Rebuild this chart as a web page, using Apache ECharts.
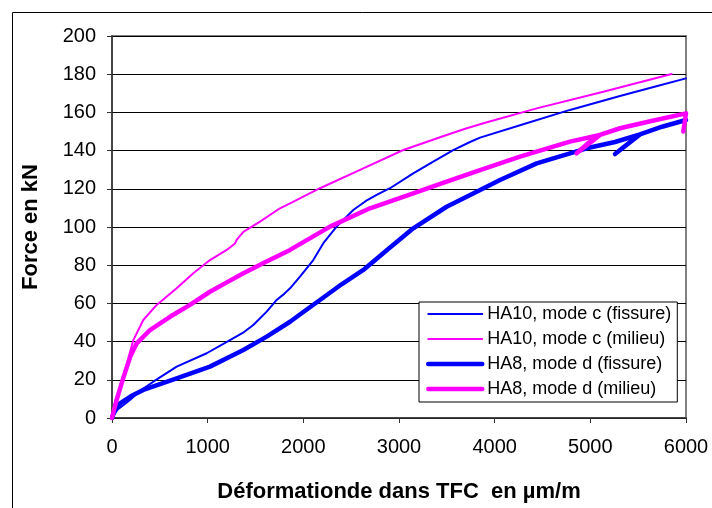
<!DOCTYPE html>
<html>
<head>
<meta charset="utf-8">
<script src="https://cdn.jsdelivr.net/npm/echarts@6/dist/echarts.min.js"></script>
<style>html,body{margin:0;padding:0;background:#fff}#c{width:712px;height:508px}</style>
</head>
<body>
<div id="c"></div>
<script>
// Tick settings
var xTicks = [0, 1000, 2000, 3000, 4000, 5000, 6000];
var yTicks = [0, 20, 40, 60, 80, 100, 120, 140, 160, 180, 200];

var seriesNames = ['HA10, mode c (fissure)', 'HA10, mode c (milieu)', 'HA8, mode d (fissure)', 'HA8, mode d (milieu)'];

// HA10, mode c (fissure)
var ha10FissX = [0, 60, 188, 300, 432, 676, 990, 1233, 1380, 1477, 1617, 1721, 1800, 1861, 1965, 2104, 2209, 2348, 2522, 2650, 2766, 2906, 3149, 3358, 3567, 3742, 3847, 4265, 4787, 5310, 5700, 6000];
var ha10FissY = [0, 4.5, 9.4, 14.5, 19, 26.9, 33.9, 40.8, 45, 48.7, 55.7, 61.8, 65, 67.9, 74, 82.7, 91.5, 100.2, 108.9, 113.5, 116.8, 120.3, 128.1, 134.2, 140.3, 144.5, 146.8, 153.3, 161.3, 168.6, 173.8, 177.8];

// HA10, mode c (milieu)
var ha10MilX = [0, 40, 118, 223, 327, 467, 676, 850, 1024, 1199, 1286, 1303, 1373, 1547, 1756, 1861, 2174, 2627, 3045, 3498, 3700, 3900, 4439, 5136, 5850];
var ha10MilY = [0, 10, 21.6, 40.8, 51.3, 59.2, 67.9, 75.8, 82.7, 88, 91.4, 93.2, 97.5, 102.8, 109.8, 112.4, 120.3, 130.7, 140.3, 148.2, 151.6, 154.6, 162.1, 170.8, 180.1];

// HA8, mode d (fissure)
var ha8FissX = [0, 30, 84, 200, 327, 676, 1024, 1373, 1617, 1861, 2000, 2174, 2400, 2627, 2900, 3149, 3498, 3812, 4056, 4439, 4962, 5258, 5519, 5258, 5390, 5519, 5750, 6000];
var ha8FissY = [0, 4.5, 7.7, 11.5, 14.7, 20.8, 26.9, 35.6, 42.6, 50.4, 55.5, 61.8, 70, 77.5, 89, 99.3, 110.6, 118.5, 124.6, 133.3, 141.2, 144.5, 148.5, 138.2, 143.5, 148.5, 152.5, 156];

// HA8, mode d (milieu)
var ha8MilX = [0, 40, 118, 190, 258, 397, 606, 815, 1024, 1200, 1373, 1600, 1861, 2279, 2697, 3149, 3498, 3847, 4265, 4787, 5101, 4857, 4980, 5101, 5310, 5650, 6000, 5972];
var ha8MilY = [0, 8, 21, 32, 39.1, 46, 53, 59.2, 66.1, 71, 75.8, 81.5, 88, 100.2, 109.8, 117.6, 123.7, 129.8, 136.8, 144.7, 148.2, 138.6, 144, 148.2, 151.7, 155.6, 159.5, 150];

function pairs(xs, ys) { return xs.map(function (x, i) { return [x, ys[i]]; }); }

var FONT = '"Liberation Sans", Arial, sans-serif';
var chart = echarts.init(document.getElementById('c'), null, { renderer: 'canvas' });

var colors = ['#0000FF', '#FF00FF', '#0000FF', '#FF00FF'];
var widths = [2, 2, 4.5, 4.5];

function mk(i, xs, ys) {
  return {
    name: seriesNames[i], type: 'line', data: pairs(xs, ys), symbol: 'none', showSymbol: false,
    smooth: false, lineStyle: { color: colors[i], width: widths[i], cap: 'round', join: 'round' },
    itemStyle: { color: colors[i] }, animation: false, clip: true
  };
}

chart.setOption({
  animation: false,
  backgroundColor: '#fff',
  graphic: [{
    type: 'rect', left: 10, top: 10, shape: { width: 720, height: 520 },
    style: { fill: 'none', stroke: '#000', lineWidth: 1 }, z: 0, silent: true
  }],
  grid: { left: 112, top: 36, right: 26, bottom: 90, show: true, borderColor: '#808080', borderWidth: 2, backgroundColor: 'transparent' },
  xAxis: {
    type: 'value', min: xTicks[0], max: xTicks[xTicks.length - 1], interval: 1000,
    name: 'Déformationde dans TFC  en µm/m', nameLocation: 'middle', nameGap: 63,
    nameTextStyle: { fontFamily: FONT, fontSize: 22, fontWeight: 'bold', color: '#000' },
    axisLine: { show: true, lineStyle: { color: '#333', width: 1.5 } },
    axisTick: { show: true, length: 5, inside: false, lineStyle: { color: '#333' } },
    axisLabel: { fontFamily: FONT, fontSize: 20, color: '#000', margin: 19, formatter: function (v) { return String(v); } },
    splitLine: { show: false }
  },
  yAxis: {
    type: 'value', min: yTicks[0], max: yTicks[yTicks.length - 1], interval: 20,
    name: 'Force en kN', nameLocation: 'middle', nameGap: 70, nameRotate: 90,
    nameTextStyle: { fontFamily: FONT, fontSize: 22, fontWeight: 'bold', color: '#000' },
    axisLine: { show: true, lineStyle: { color: '#333', width: 1.5 } },
    axisTick: { show: true, length: 5, inside: false, lineStyle: { color: '#333' } },
    axisLabel: { fontFamily: FONT, fontSize: 20, color: '#000', margin: 16, formatter: function (v) { return String(v); } },
    splitLine: { show: true, lineStyle: { color: '#000', width: 1 } }
  },
  legend: {
    orient: 'vertical', left: 419, top: 302,
    data: seriesNames.map(function (n, i) {
      return { name: n, lineStyle: { width: widths[i], color: colors[i], cap: 'round' } };
    }),
    itemWidth: 54, itemHeight: 14, itemGap: 7,
    padding: [3, 6, 4, 7],
    backgroundColor: '#fff', borderColor: '#000', borderWidth: 1,
    itemStyle: { opacity: 0 },
    textStyle: { fontFamily: FONT, fontSize: 18, color: '#000' },
    z: 10
  },
  series: [
    mk(0, ha10FissX, ha10FissY),
    mk(1, ha10MilX, ha10MilY),
    mk(2, ha8FissX, ha8FissY),
    mk(3, ha8MilX, ha8MilY)
  ]
});
</script>
</body>
</html>
